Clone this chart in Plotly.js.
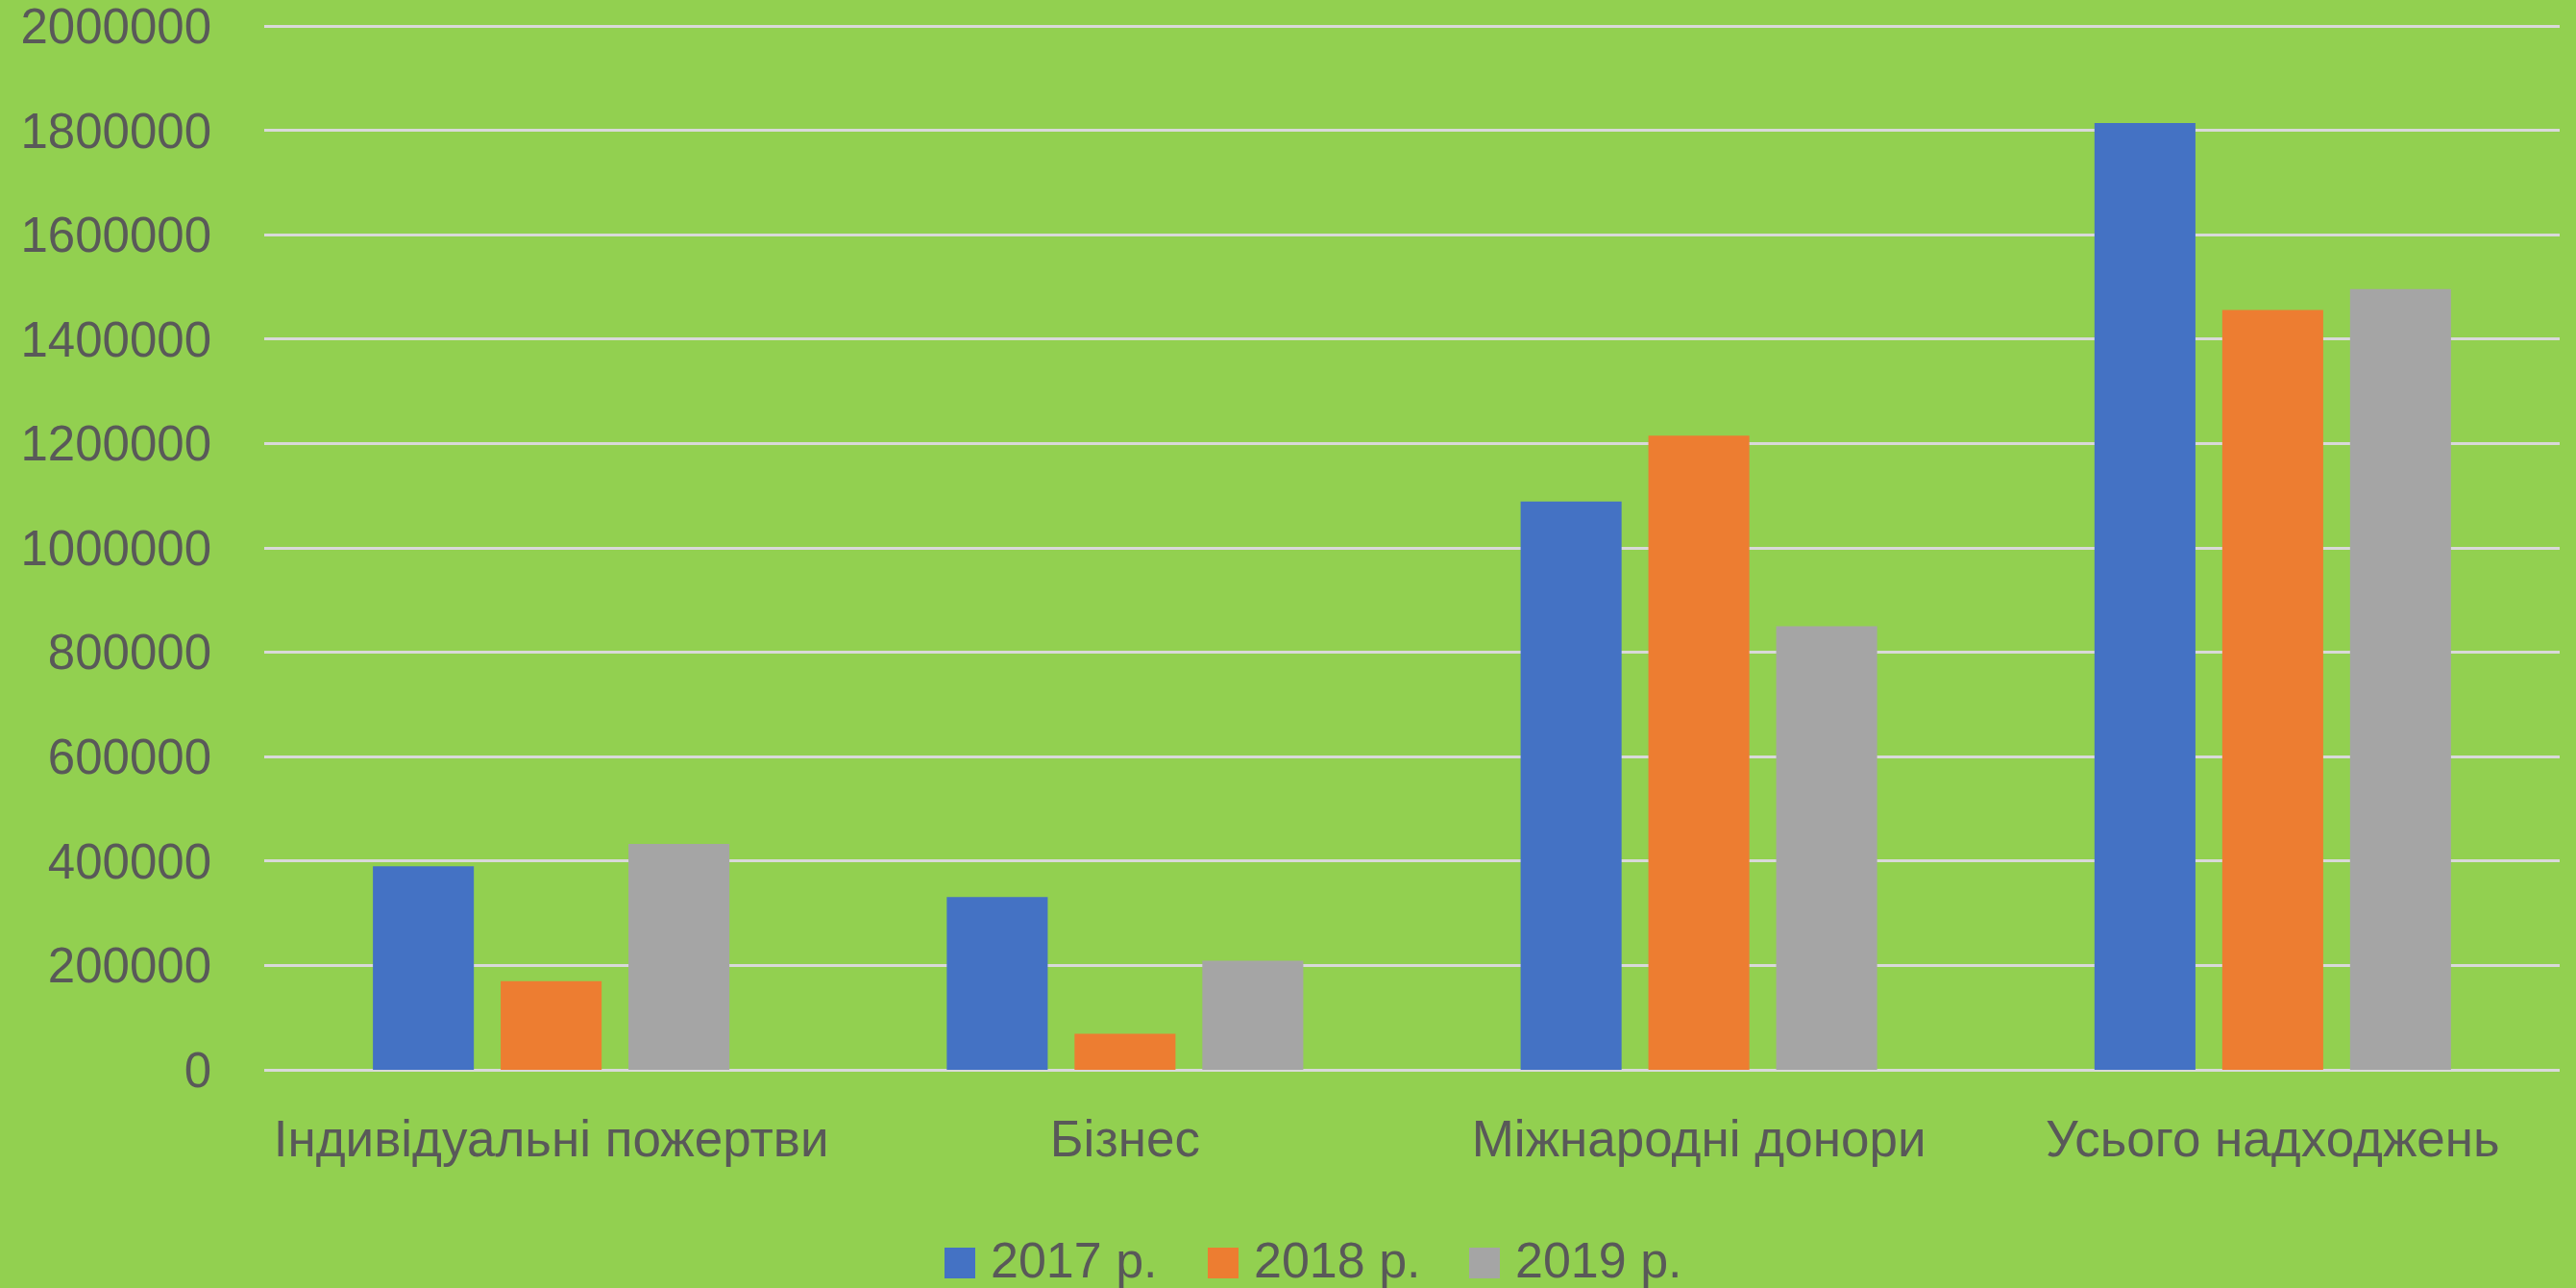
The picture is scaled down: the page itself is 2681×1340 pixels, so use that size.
<!DOCTYPE html>
<html>
<head>
<meta charset="utf-8">
<script src="https://cdn.plot.ly/plotly-3.0.1.min.js"></script>
<style>html,body{margin:0;padding:0;background:#92D050;}#chart{width:2681px;height:1340px;}</style>
</head>
<body>
<div id="chart"></div>
<script>
const categories = ["Індивідуальні пожертви", "Бізнес", "Міжнародні донори", "Усього надходжень"];
const seriesNames = ["2017 р.", "2018 р.", "2019 р."];
const values2017 = [390000, 331000, 1089000, 1814000];
const values2018 = [170000, 69000, 1215000, 1456000];
const values2019 = [433000, 209000, 850000, 1496000];
const colors = ["#4472C4", "#ED7D31", "#A5A5A5"];

const allValues = [values2017, values2018, values2019];
const traces = allValues.map((v, i) => ({
  type: "bar",
  name: seriesNames[i],
  x: categories,
  y: v,
  marker: {color: colors[i]},
  showlegend: false,
  hoverinfo: "skip"
}));

// plot-area geometry in pixels (layout only)
const W = 2681, H = 1340;
const M = {l: 275, r: 17, t: 26, b: 227};
const PW = W - M.l - M.r, PH = H - M.t - M.b;
const px2x = p => (p - M.l) / PW;
const px2y = p => (H - M.b - p) / PH;

// custom legend: swatch left edges and text positions (pixels)
const legSwatchX = [983, 1257, 1529];
const legSwatch = 32, legCenterY = 1311;
const shapes = seriesNames.map((n, i) => ({
  type: "rect", xref: "paper", yref: "paper",
  x0: px2x(legSwatchX[i]), x1: px2x(legSwatchX[i] + legSwatch),
  y0: px2y(legCenterY + 3 + legSwatch / 2), y1: px2y(legCenterY + 3 - legSwatch / 2),
  fillcolor: colors[i], line: {width: 0}
}));
const fontFam = "'Liberation Sans', Arial, sans-serif";
const annotations = seriesNames.map((n, i) => ({
  xref: "paper", yref: "paper",
  x: px2x(legSwatchX[i] + legSwatch + 15), y: px2y(legCenterY),
  xanchor: "left", yanchor: "middle",
  text: n, showarrow: false, borderpad: 0,
  font: {family: fontFam, size: 52, color: "#595959"}
}));

const layout = {
  width: W,
  height: H,
  paper_bgcolor: "#92D050",
  plot_bgcolor: "#92D050",
  margin: {l: M.l, r: M.r, t: M.t, b: M.b, pad: 0},
  barmode: "group",
  bargap: 0.332,
  bargroupgap: 0.21,
  font: {family: fontFam, size: 51, color: "#595959"},
  xaxis: {
    type: "category",
    showgrid: false,
    showline: false,
    zeroline: false,
    ticks: "",
    ticklabelstandoff: 36,
    tickfont: {family: fontFam, size: 53, color: "#595959"}
  },
  yaxis: {
    range: [0, 2002000],
    tickmode: "linear",
    dtick: 200000,
    tick0: 0,
    tickformat: "d",
    ticklabeloverflow: "allow",
    showgrid: true,
    gridcolor: "#D9D9D9",
    gridwidth: 3,
    zeroline: true,
    zerolinecolor: "#D9D9D9",
    zerolinewidth: 3,
    showline: false,
    ticks: "",
    ticklabelstandoff: 54,
    tickfont: {family: fontFam, size: 51, color: "#595959"}
  },
  showlegend: false,
  shapes: shapes,
  annotations: annotations
};

Plotly.newPlot("chart", traces, layout, {displayModeBar: false, staticPlot: true});
</script>
</body>
</html>
